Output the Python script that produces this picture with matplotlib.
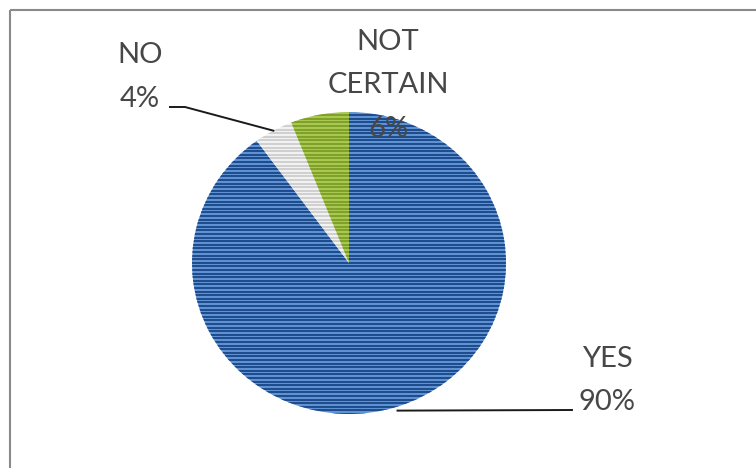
import numpy as np
import matplotlib
matplotlib.use("Agg")
import matplotlib.pyplot as plt
from matplotlib.patches import Rectangle

# survey answers
categories = ["YES", "NO", "NOT CERTAIN"]
shares = [90, 4, 6]

# fill colours: base tone and the darker scan stripe on top of it
base_colors = ["#5f92d2", "#f2f2f2", "#a9c84e"]
stripe_colors = ["#1d4b8c", "#d0d0d0", "#7f9f2c"]

W, H = 756, 468
PIE_CX, PIE_CY = 349, 263      # pie centre, pixels from top-left
PIE_RX, PIE_RY = 157, 151      # pie is a little wider than tall

plt.rcParams['font.family'] = ['Lato', 'DejaVu Sans']

fig = plt.figure(figsize=(W / 100, H / 100), dpi=100)
fig.patch.set_facecolor("white")

# ---------------- pie ----------------
ax = fig.add_axes([(PIE_CX - PIE_RX) / W, (H - PIE_CY - PIE_RY) / H,
                   2 * PIE_RX / W, 2 * PIE_RY / H])
wedges, _ = ax.pie(shares, colors=base_colors, startangle=90,
                   counterclock=False, radius=1,
                   wedgeprops=dict(linewidth=0))
ax.set_aspect("auto")
ax.set_xlim(-1, 1)
ax.set_ylim(-1, 1)
ax.axis("off")

# horizontal scan stripes clipped to every wedge
stripe_y = np.arange(-1, 1, 3.6 / PIE_RY)
for w, sc in zip(wedges, stripe_colors):
    lines = ax.hlines(stripe_y, -1, 1, colors=sc, linewidth=1.4)
    lines.set_clip_path(w)

# ---------------- labels ----------------
ov = fig.add_axes([0, 0, 1, 1])
ov.set_xlim(0, W)
ov.set_ylim(H, 0)
ov.axis("off")
ov.add_patch(Rectangle((9.5, 10), W + 20, H + 20, fill=False,
                       edgecolor="#8a8a8a", linewidth=1.5))


def edge_point(idx):
    # middle of a wedge on the rim, in pixels
    start = 90 - sum(shares[:idx]) / sum(shares) * 360
    mid = np.radians(start - shares[idx] / sum(shares) * 360 / 2)
    return PIE_CX + PIE_RX * np.cos(mid), PIE_CY - PIE_RY * np.sin(mid)


txt_kw = dict(ha="center", va="baseline", fontsize=21, color="#474747")

# text column centre and baseline of each line
label_pos = {
    "YES": (607, [367, 410]),
    "NO": (140, [63, 107]),
    "NOT CERTAIN": (388, [50, 93, 137]),
}
for i, cat in enumerate(categories):
    x, baselines = label_pos[cat]
    rows = cat.split(" ") + [f"{shares[i]}%"]
    for row, y in zip(rows, baselines):
        ov.text(x, y, row, **txt_kw)

# leader lines
ex, ey = edge_point(categories.index("YES"))
ov.plot([ex, 572], [ey + 4, 410], color="#1a1a1a", linewidth=1.4)
ex, ey = edge_point(categories.index("NO"))
ov.plot([170, 185, ex], [107, 107, ey], color="#1a1a1a", linewidth=1.4)

fig.savefig("out.png", dpi=100, facecolor="white")
